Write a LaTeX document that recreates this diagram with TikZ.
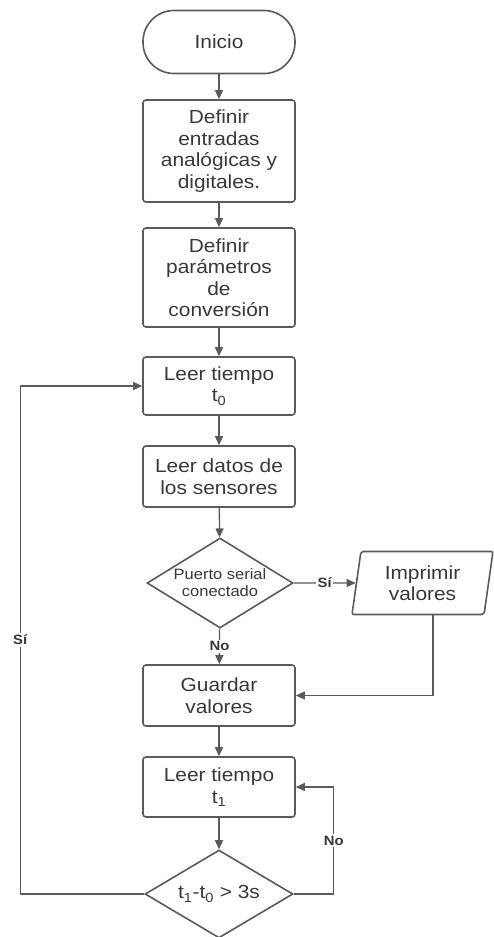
\documentclass[tikz,border=0pt]{standalone}
\usepackage{fontspec}
\setmainfont{Liberation Sans}[FakeStretch=1.1]
\usetikzlibrary{shapes.geometric, arrows.meta, calc}
\definecolor{linea}{HTML}{5A5A5A}
\definecolor{texto}{HTML}{383838}
\tikzset{
  caja/.style={draw=linea, line width=1.6pt, rounded corners=3pt, minimum width=152pt,
    align=center, text=texto, inner sep=2pt, font=\fontsize{19}{21.5}\selectfont},
  terminal/.style={caja, rounded corners=31pt},
  decision/.style={diamond, draw=linea, line width=1.6pt, aspect=1.6, inner sep=0pt,
    align=center, text=texto},
  datosio/.style={trapezium, trapezium left angle=78, trapezium right angle=102,
    trapezium stretches body, draw=linea, line width=1.6pt, rounded corners=2pt,
    align=center, text=texto, font=\fontsize{19}{21.5}\selectfont},
  flecha/.style={draw=linea, line width=1.3pt, -{Triangle[length=9pt,width=8pt]}},
  etiqueta/.style={fill=white, inner sep=1.5pt, text=texto,
    font=\fontsize{13.5}{13.5}\selectfont\bfseries}
}
\begin{document}
\begin{tikzpicture}[x=1pt,y=-1pt]
  \useasboundingbox (0,0) rectangle (493,937);
  \node[terminal, minimum height=63pt] (ini) at (219,42) {Inicio};
  \node[caja, minimum height=102pt] (entradas) at (219,151)
    {Definir\\entradas\\analógicas y\\digitales.};
  \node[caja, minimum height=99pt] (param) at (219,277.5)
    {Definir\\parámetros\\de\\conversión};
  \node[caja, minimum height=58pt] (tcero) at (219,386) {Leer tiempo\\t\textsubscript{0}};
  \node[caja, minimum height=61pt] (sensores) at (219,476.5) {Leer datos de\\los sensores};
  % puerto serial
  \node[decision, minimum width=146pt, minimum height=90pt,
    font=\fontsize{15}{17}\selectfont] (serial) at (220,583) {Puerto serial\\conectado};
  \node[datosio, minimum width=141pt, minimum height=63pt] (imprimir) at (422.5,583)
    {Imprimir\\valores};
  \node[caja, minimum height=61pt] (guardar) at (219,695.5) {Guardar\\valores};
  \node[caja, minimum height=60pt] (tuno) at (219,787) {Leer tiempo\\t\textsubscript{1}};
  \node[decision, minimum width=148pt, minimum height=88pt,
    font=\fontsize{19}{21.5}\selectfont] (cond) at (219,894)
    {t\textsubscript{1}-t\textsubscript{0} > 3s};

  \draw[flecha] (ini) -- (entradas);
  \draw[flecha] (entradas) -- (param);
  \draw[flecha] (param) -- (tcero);
  \draw[flecha] (tcero) -- (sensores);
  \draw[flecha] (sensores) -- (serial);
  \draw[flecha] (serial) -- node[etiqueta]{Sí} (imprimir);
  \draw[flecha] (serial) -- node[etiqueta]{No} (guardar);
  \draw[flecha] ($(imprimir.south)+(10.5,0)$) |- (guardar.east);
  \draw[flecha] (guardar) -- (tuno);
  \draw[flecha] (tuno) -- (cond);
  % lazos
  \draw[flecha] (cond.east) -- ++(40,0) |- node[etiqueta, pos=0.25]{No} (tuno.east);
  \draw[flecha] (cond.west) -- ++(-124,0) |- node[etiqueta, pos=0.25]{Sí} (tcero.west);
\end{tikzpicture}
\end{document}
